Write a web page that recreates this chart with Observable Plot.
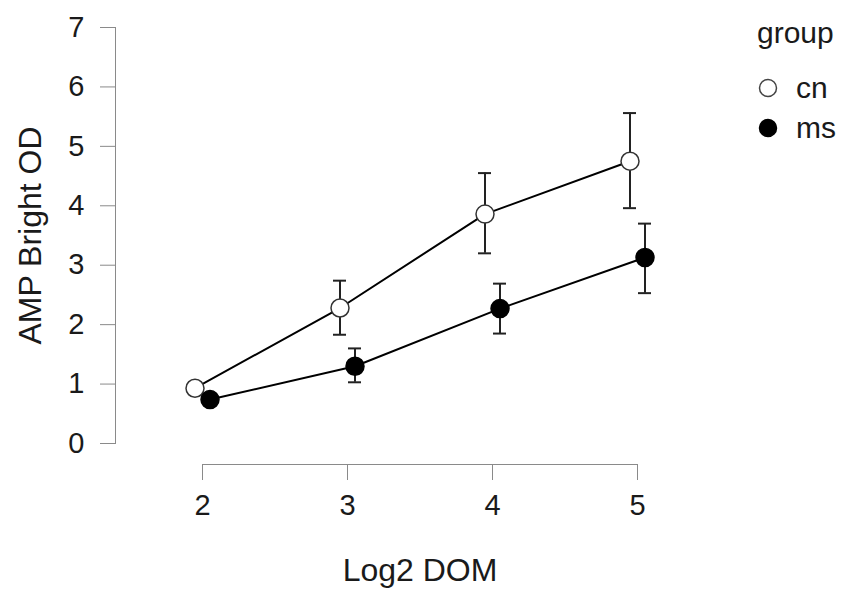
<!DOCTYPE html>
<html><head><meta charset="utf-8">
<script src="https://cdn.jsdelivr.net/npm/d3@7"></script>
<script src="https://cdn.jsdelivr.net/npm/@observablehq/plot@0.6"></script>
<style>
body{margin:0;background:#fff;font-family:"Liberation Sans",Arial,Helvetica,sans-serif;}
#wrap{position:relative;width:846px;height:590px;}
#legend{position:absolute;left:0;top:0;pointer-events:none;}
</style></head><body><div id="wrap"></div>
<script>
const doses = [2, 3, 4, 5];
const groups = ["cn", "ms"];
const cnMean = [0.93, 2.28, 3.86, 4.75];
const cnLow  = [0.85, 1.83, 3.20, 3.96];
const cnHigh = [1.01, 2.74, 4.55, 5.56];
const msMean = [0.74, 1.30, 2.27, 3.13];
const msLow  = [0.66, 1.03, 1.85, 2.53];
const msHigh = [0.82, 1.60, 2.69, 3.70];
const yTicks = [0, 1, 2, 3, 4, 5, 6, 7];
const xTicks = [2, 3, 4, 5];
const xLabel = "Log2 DOM";
const yLabel = "AMP Bright OD";
const legendTitle = "group";

const cnRows = doses.map((d, i) => ({dose: d, group: groups[0], mean: cnMean[i], low: cnLow[i], high: cnHigh[i]}));
const msRows = doses.map((d, i) => ({dose: d, group: groups[1], mean: msMean[i], low: msLow[i], high: msHigh[i]}));

const axisGray = "#8a8a8a";
const ink = "#1a1a1a";
const off = 7.5;

function groupMarks(rows, dx, fill, stroke) {
  return [
    Plot.line(rows, {x: "dose", y: "mean", dx, stroke: "#000", strokeWidth: 2}),
    Plot.ruleX(rows, {x: "dose", y1: "low", y2: "high", dx, stroke: "#222", strokeWidth: 2}),
    Plot.ruleY(rows, {y: "high", x1: "dose", x2: "dose", insetLeft: -6.5, insetRight: -6.5, dx, stroke: "#222", strokeWidth: 2}),
    Plot.ruleY(rows, {y: "low", x1: "dose", x2: "dose", insetLeft: -6.5, insetRight: -6.5, dx, stroke: "#222", strokeWidth: 2}),
    Plot.dot(rows, {x: "dose", y: "mean", r: 9, dx, fill, stroke, strokeWidth: 1.5})
  ];
}

const chart = Plot.plot({
  width: 846,
  height: 590,
  marginLeft: 115,
  marginRight: 122,
  marginTop: 27,
  marginBottom: 147,
  style: {fontFamily: '"Liberation Sans", Arial, Helvetica, sans-serif', background: "#fff", color: ink},
  x: {domain: [2, 5], range: [202, 637]},
  y: {domain: [0, 7]},
  marks: [
    Plot.frame({anchor: "left", stroke: axisGray}),
    Plot.ruleY([0], {x1: xTicks[0], x2: xTicks[xTicks.length - 1], dy: 21, stroke: axisGray}),
    Plot.axisY(yTicks, {anchor: "left", tickSize: 15, tickPadding: 16, fontSize: 29, tickFormat: "d", label: null, stroke: axisGray, fill: ink}),
    Plot.axisX(xTicks, {anchor: "bottom", tickSize: 16, tickPadding: 14, dy: 21, fontSize: 29, tickFormat: "d", label: null, stroke: axisGray, fill: ink}),
    Plot.text([yLabel], {text: d => d, frameAnchor: "left", textAnchor: "middle", lineAnchor: "middle", rotate: -90, dx: -85, fontSize: 32, fill: ink}),
    Plot.text([xLabel], {text: d => d, frameAnchor: "bottom", textAnchor: "middle", dy: 127, fontSize: 32, fill: ink, lineAnchor: "middle"}),
    ...groupMarks(cnRows, -off, "#fff", "#333"),
    ...groupMarks(msRows, off, "#000", "#000")
  ]
});
const wrap = document.getElementById("wrap");
wrap.appendChild(chart);

// legend overlay
const ns = "http://www.w3.org/2000/svg";
const leg = document.createElementNS(ns, "svg");
leg.setAttribute("id", "legend");
leg.setAttribute("width", 846);
leg.setAttribute("height", 590);
const fontAttr = '"Liberation Sans", Arial, Helvetica, sans-serif';
function addText(txt, x, y) {
  const t = document.createElementNS(ns, "text");
  t.setAttribute("x", x); t.setAttribute("y", y);
  t.setAttribute("font-size", 30); t.setAttribute("font-family", fontAttr);
  t.setAttribute("fill", ink);
  t.textContent = txt; leg.appendChild(t);
}
function addCircle(cx, cy, fill, stroke) {
  const c = document.createElementNS(ns, "circle");
  c.setAttribute("cx", cx); c.setAttribute("cy", cy); c.setAttribute("r", 8.5);
  c.setAttribute("fill", fill); c.setAttribute("stroke", stroke); c.setAttribute("stroke-width", 1.5);
  leg.appendChild(c);
}
addText(legendTitle, 757, 43);
const legStyles = [["#fff", "#444"], ["#000", "#000"]];
groups.forEach((g, i) => {
  const cy = 88 + i * 40;
  addCircle(768, cy, legStyles[i][0], legStyles[i][1]);
  addText(g, 796, cy + 10);
});
wrap.appendChild(leg);
</script></body></html>
